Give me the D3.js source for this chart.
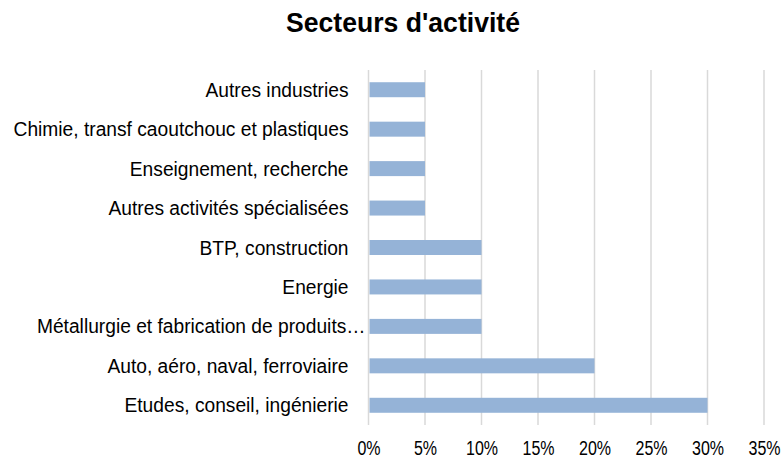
<!DOCTYPE html>
<html>
<head>
  <meta charset="utf-8">
  <script src="https://d3js.org/d3.v7.min.js"></script>
  <style>
    body { margin: 0; background: #fff; }
    svg text { font-family: "Liberation Sans Narrow", "Arial Narrow", "Liberation Sans", sans-serif; fill: #000; }
    .title { font-size: 28px; font-weight: bold; }
    .cat { font-size: 20px; }
    .tick text { font-size: 20px; }
    .grid line { stroke: #d9d9d9; stroke-width: 1.5; }
    .bar { fill: #95b3d7; }
  </style>
</head>
<body>
  <svg id="chart" width="782" height="459"></svg>
  <script>
    // Data (bottom to top in the picture)
    const categories = [
      "Etudes, conseil, ingénierie",
      "Auto, aéro, naval, ferroviaire",
      "Métallurgie et fabrication de produits…",
      "Energie",
      "BTP, construction",
      "Autres activités spécialisées",
      "Enseignement, recherche",
      "Chimie, transf caoutchouc et plastiques",
      "Autres industries"
    ];
    const values = [0.30, 0.20, 0.10, 0.10, 0.10, 0.05, 0.05, 0.05, 0.05];
    const tickValues = [0, 0.05, 0.10, 0.15, 0.20, 0.25, 0.30, 0.35];

    const svg = d3.select("#chart");
    const plotLeft = 368.5, plotRight = 764, plotTop = 70, plotBottom = 425;

    const x = d3.scaleLinear().domain([0, 0.35]).range([plotLeft, plotRight]);
    const y = d3.scaleBand()
      .domain(categories.slice().reverse())
      .range([plotTop, plotBottom])
      .paddingInner(0.62)
      .paddingOuter(0.31);

    // Title (condensed look)
    svg.append("text")
      .attr("class", "title")
      .attr("transform", "translate(403, 32) scale(0.95, 1)")
      .attr("text-anchor", "middle")
      .text("Secteurs d'activité");

    // Vertical gridlines
    svg.append("g")
      .attr("class", "grid")
      .selectAll("line")
      .data(tickValues)
      .join("line")
      .attr("x1", d => x(d)).attr("x2", d => x(d))
      .attr("y1", plotTop).attr("y2", plotBottom);

    // Bars
    svg.append("g")
      .selectAll("rect")
      .data(categories)
      .join("rect")
      .attr("class", "bar")
      .attr("x", x(0) + 1)
      .attr("y", d => y(d))
      .attr("width", (d, i) => x(values[i]) - x(0) - 1)
      .attr("height", y.bandwidth());

    // Category labels
    svg.append("g")
      .selectAll("text")
      .data(categories)
      .join("text")
      .attr("class", "cat")
      .attr("transform", d => {
        const lx = d.endsWith("…") ? plotLeft - 3 : plotLeft - 20;
        return `translate(${lx}, ${y(d) + y.bandwidth() / 2}) scale(0.96, 1)`;
      })
      .attr("dy", "0.35em")
      .attr("text-anchor", "end")
      .text(d => d);

    // X axis tick labels
    const xAxis = svg.append("g")
      .attr("transform", `translate(0, ${plotBottom})`)
      .call(d3.axisBottom(x)
        .tickValues(tickValues)
        .tickFormat(d3.format(".0%"))
        .tickSize(0)
        .tickPadding(16));
    xAxis.select(".domain").remove();
    xAxis.selectAll("text")
      .attr("dy", "0.71em")
      .attr("transform", "scale(0.8, 1)");
  </script>
</body>
</html>
